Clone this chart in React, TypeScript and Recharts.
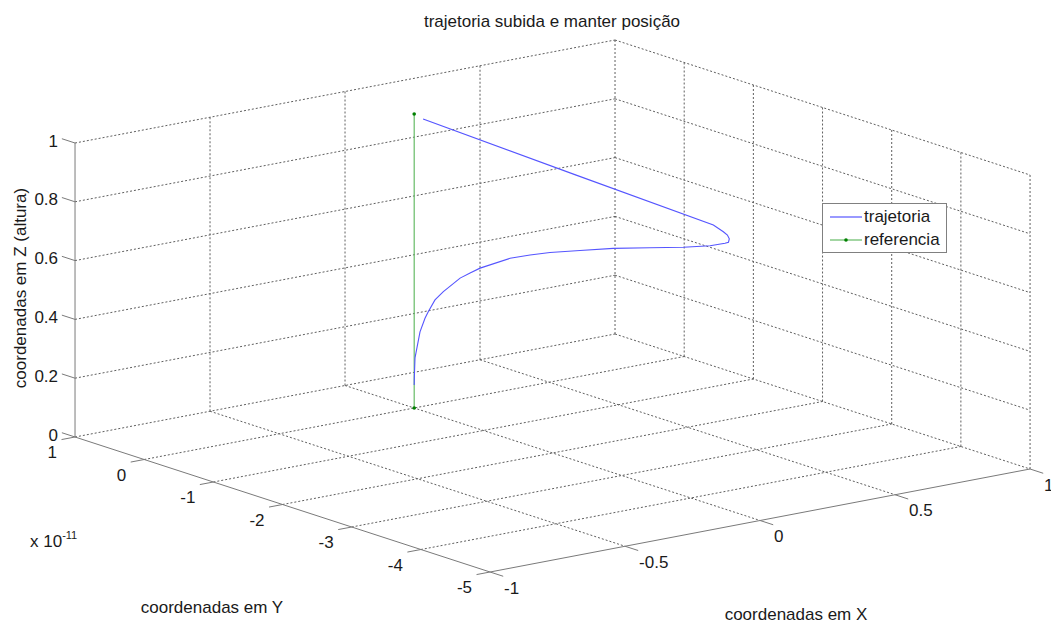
import React from 'react';
import { ScatterChart, Scatter, XAxis, YAxis } from 'recharts';

const W = 1051;
const H = 622;

// axis ticks (Y is shown in units of 1e-11)
const xTicks = [-1, -0.5, 0, 0.5, 1];
const yTicks = [1, 0, -1, -2, -3, -4, -5];
const zTicks = [0, 0.2, 0.4, 0.6, 0.8, 1];
const xTickLabels = ['-1', '-0.5', '0', '0.5', '1'];
const yTickLabels = ['1', '0', '-1', '-2', '-3', '-4', '-5'];
const zTickLabels = ['0', '0.2', '0.4', '0.6', '0.8', '1'];

// trajetoria (x, y [1e-11], z)
const trajX = [0, 0.0004, 0.003, 0.0215, 0.04, 0.052, 0.077, 0.108, 0.17, 0.207, 0.244, 0.355, 0.429, 0.503, 0.614, 0.737, 0.873, 0.997, 1.096, 1.151, 1.164, 1.167, 1.16, 1.145, 1.108, 0.6, 0.033];
const trajY = [0, 0, 0, 0, 0, 0, 0, 0, 0, 0, 0, 0, 0, 0, 0, 0, 0, 0, 0, 0, 0, 0, 0, 0, 0, 0, 0];
const trajZ = [0.078, 0.102, 0.17, 0.255, 0.298, 0.318, 0.354, 0.377, 0.412, 0.423, 0.433, 0.447, 0.445, 0.441, 0.428, 0.414, 0.392, 0.372, 0.36, 0.359, 0.36, 0.371, 0.385, 0.399, 0.428, 0.687, 0.977];

// referencia
const refX = [0, 0];
const refY = [0, 0];
const refZ = [0, 1];

const xMin = -1, xMax = 1, yMin = -5, yMax = 1, zMin = 0, zMax = 1;

// orthographic view of the box (page units per data unit)
const VIEW = { ox: 414.2, oy: 408, ex: [270, -51.5], ey: [-69.17, -22.5], ez: [0, -294] };

type P = { px: number; py: number; label?: string; anchor?: string; dx?: number; dy?: number };

const proj = (x: number, y: number, z: number): P => ({
  px: VIEW.ox + x * VIEW.ex[0] + y * VIEW.ey[0] + z * VIEW.ez[0],
  py: VIEW.oy + x * VIEW.ex[1] + y * VIEW.ey[1] + z * VIEW.ez[1],
});

const gridSegs: P[][] = [];
const axisSegs: P[][] = [];

// back wall (y = yMax)
xTicks.forEach((x) => {
  if (x !== xMin) gridSegs.push([proj(x, yMax, zMin), proj(x, yMax, zMax)]);
});
zTicks.forEach((z) => {
  if (z !== zMin) gridSegs.push([proj(xMin, yMax, z), proj(xMax, yMax, z)]);
});
// side wall (x = xMax)
yTicks.forEach((y) => {
  if (y !== yMax) gridSegs.push([proj(xMax, y, zMin), proj(xMax, y, zMax)]);
});
zTicks.forEach((z) => {
  if (z !== zMin) gridSegs.push([proj(xMax, yMax, z), proj(xMax, yMin, z)]);
});
// floor
xTicks.forEach((x) => {
  if (x !== xMin) gridSegs.push([proj(x, yMax, zMin), proj(x, yMin, zMin)]);
});
yTicks.forEach((y) => {
  if (y !== yMin) gridSegs.push([proj(xMin, y, zMin), proj(xMax, y, zMin)]);
});

// axes + tick marks
axisSegs.push([proj(xMin, yMax, zMin), proj(xMin, yMax, zMax)]);
axisSegs.push([proj(xMin, yMax, zMin), proj(xMin, yMin, zMin)]);
axisSegs.push([proj(xMin, yMin, zMin), proj(xMax, yMin, zMin)]);
zTicks.forEach((z) => axisSegs.push([proj(xMin, yMax, z), proj(xMin, yMax + 0.19, z)]));
yTicks.forEach((y) => axisSegs.push([proj(xMin, y, zMin), proj(xMin - 0.05, y, zMin)]));
xTicks.forEach((x) => axisSegs.push([proj(x, yMin, zMin), proj(x, yMin - 0.19, zMin)]));

const tickLabels: P[] = [
  ...zTicks.map((z, i) => ({ ...proj(xMin, yMax, z), label: zTickLabels[i], anchor: 'end', dx: -17, dy: -2 })),
  ...yTicks.map((y, i) => ({ ...proj(xMin, y, zMin), label: yTickLabels[i], anchor: 'end', dx: -18, dy: 15.5 })),
  ...xTicks.map((x, i) => ({ ...proj(x, yMin, zMin), label: xTickLabels[i], anchor: 'start', dx: 14, dy: 16 })),
];

const trajPts = trajX.map((x, i) => proj(x, trajY[i], trajZ[i]));
const refPts = refX.map((x, i) => proj(x, refY[i], refZ[i]));

const FONT = '"Liberation Sans", Arial, sans-serif';
const TRAJ_COLOR = '#5555ff';
const REF_COLOR = '#66bb66';

const noDot = () => <g />;

const textShape = (p: any) => (
  <text
    x={p.cx + p.payload.dx}
    y={p.cy + p.payload.dy}
    textAnchor={p.payload.anchor}
    dominantBaseline="central"
    fontFamily={FONT}
    fontSize={17}
    fill="#1a1a1a"
  >
    {p.payload.label}
  </text>
);

const refDot = (p: any) => <circle cx={p.cx} cy={p.cy} r={1.8} fill="#008000" />;

const label = (text: string, left: number, top: number, extra: React.CSSProperties = {}) => (
  <div
    style={{
      position: 'absolute',
      left,
      top,
      transform: 'translate(-50%, -50%)',
      fontFamily: FONT,
      fontSize: 17,
      color: '#1a1a1a',
      whiteSpace: 'nowrap',
      ...extra,
    }}
  >
    {text}
  </div>
);

export default function App() {
  return (
    <div style={{ position: 'absolute', left: 0, top: 0, width: W, height: H, background: '#fff' }}>
      <ScatterChart width={W} height={H} margin={{ top: 0, right: 0, bottom: 0, left: 0 }}>
        <XAxis type="number" dataKey="px" domain={[0, W]} allowDataOverflow hide />
        <YAxis type="number" dataKey="py" domain={[0, H]} reversed allowDataOverflow hide />
        {gridSegs.map((s, i) => (
          <Scatter
            key={`g${i}`}
            data={s}
            line={{ stroke: '#5f5f5f', strokeWidth: 1, strokeDasharray: '2 2' }}
            shape={noDot}
            isAnimationActive={false}
          />
        ))}
        {axisSegs.map((s, i) => (
          <Scatter
            key={`a${i}`}
            data={s}
            line={{ stroke: '#7a7a7a', strokeWidth: 1 }}
            shape={noDot}
            isAnimationActive={false}
          />
        ))}
        <Scatter data={refPts} line={{ stroke: REF_COLOR, strokeWidth: 1.2 }} shape={refDot} isAnimationActive={false} />
        <Scatter data={trajPts} line={{ stroke: TRAJ_COLOR, strokeWidth: 1.1 }} shape={noDot} isAnimationActive={false} />
        <Scatter data={tickLabels} shape={textShape} isAnimationActive={false} />
      </ScatterChart>

      {label('trajetoria subida e manter posição', 552, 22)}
      {label('coordenadas em Y', 212, 608)}
      {label('coordenadas em X', 796, 615)}
      {label('coordenadas em Z (altura)', 21, 288, { transform: 'translate(-50%, -50%) rotate(-90deg)' })}
      <div style={{ position: 'absolute', left: 30, top: 532, fontFamily: FONT, fontSize: 17, color: '#1a1a1a', whiteSpace: 'nowrap' }}>
        x 10<span style={{ fontSize: 11, position: 'relative', top: -8 }}>-11</span>
      </div>

      <div
        style={{
          position: 'absolute',
          left: 822,
          top: 203,
          width: 123,
          height: 48,
          border: '1px solid #808080',
          background: '#fff',
          fontFamily: FONT,
          fontSize: 17,
          color: '#1a1a1a',
        }}
      >
        <div style={{ position: 'absolute', left: 6, top: 2, display: 'flex', alignItems: 'center', height: 22 }}>
          <svg width={34} height={10}>
            <line x1={1} y1={5} x2={33} y2={5} stroke={TRAJ_COLOR} strokeWidth={1.2} />
          </svg>
          <span style={{ marginLeft: 1 }}>trajetoria</span>
        </div>
        <div style={{ position: 'absolute', left: 6, top: 25, display: 'flex', alignItems: 'center', height: 22 }}>
          <svg width={34} height={10}>
            <line x1={1} y1={5} x2={33} y2={5} stroke={REF_COLOR} strokeWidth={1.2} />
            <circle cx={17} cy={5} r={1.8} fill="#008000" />
          </svg>
          <span style={{ marginLeft: 1 }}>referencia</span>
        </div>
      </div>
    </div>
  );
}
